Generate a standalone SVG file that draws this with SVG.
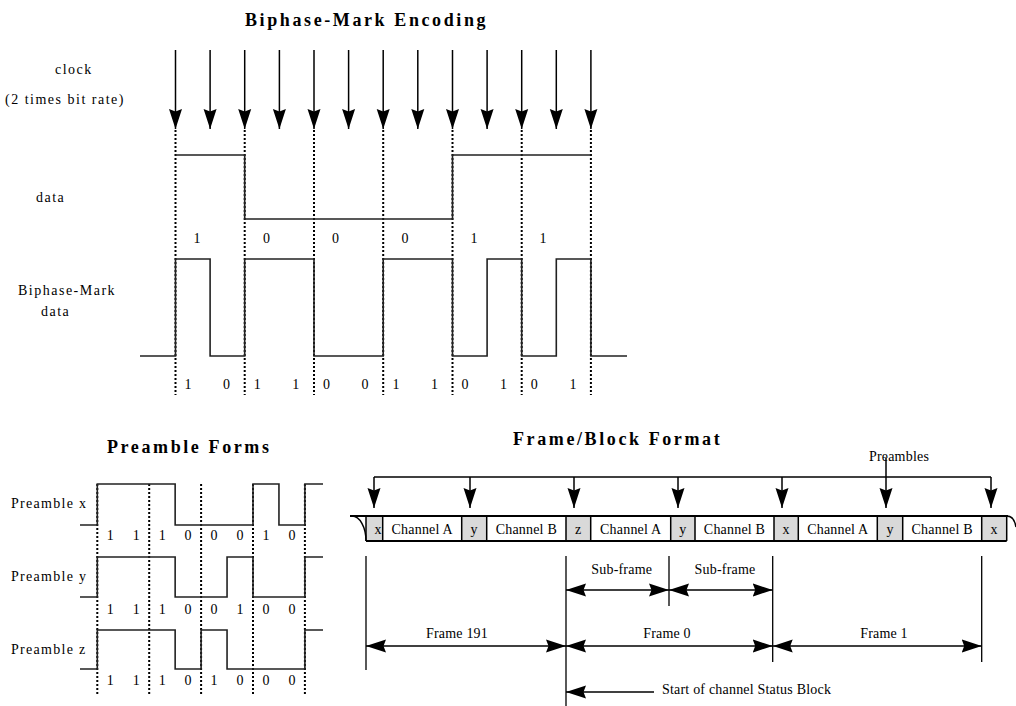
<svg xmlns="http://www.w3.org/2000/svg" width="1016" height="706" viewBox="0 0 1016 706">
<defs>
<style>
text{font-family:"Liberation Serif","Times New Roman",serif;fill:#000}
.title{font-size:18px;font-weight:bold;letter-spacing:2.6px}
.lbl{font-size:14px;letter-spacing:1.5px}
.bit{font-size:14px;text-anchor:middle}
.sm{font-size:14px;letter-spacing:0.2px}
.mid{text-anchor:middle}
.wave{fill:none;stroke:#222;stroke-width:1.6}
.dot{fill:none;stroke:#000;stroke-width:2;stroke-dasharray:2 2}
.arr{fill:none;stroke:#000;stroke-width:1.5;marker-end:url(#ah)}
.dbl{fill:none;stroke:#000;stroke-width:1.5;marker-end:url(#ah);marker-start:url(#ah)}
.ln{fill:none;stroke:#000;stroke-width:1.3}
.gray{fill:#d9d9d9}
.white{fill:#fff}
.sep{stroke:#000;stroke-width:1.5}
.bord{fill:none;stroke:#000;stroke-width:2.2}
</style>
<marker id="ah" viewBox="0 0 20 14" refX="20" refY="7" markerWidth="20" markerHeight="14" markerUnits="userSpaceOnUse" orient="auto-start-reverse">
<path d="M0,0.5 L20,7 L0,13.5 L2.5,7 Z" fill="#000"/>
</marker>
</defs>
<rect width="1016" height="706" fill="#fff"/>

<!-- Biphase-Mark Encoding -->
<g id="biphase">
<text class="title" x="245" y="26">Biphase-Mark Encoding</text>
<text class="lbl" x="55" y="74">clock</text>
<text class="lbl" x="5" y="104">(2 times bit rate)</text>
<text class="lbl" x="36" y="202">data</text>
<text class="lbl" x="18" y="295">Biphase-Mark</text>
<text class="lbl" x="41" y="316">data</text>
</g>
<g id="clock-arrows">
<line class="arr" x1="175.5" y1="50" x2="175.5" y2="129"/>
<line class="arr" x1="210.1" y1="50" x2="210.1" y2="129"/>
<line class="arr" x1="244.7" y1="50" x2="244.7" y2="129"/>
<line class="arr" x1="279.4" y1="50" x2="279.4" y2="129"/>
<line class="arr" x1="314" y1="50" x2="314" y2="129"/>
<line class="arr" x1="348.6" y1="50" x2="348.6" y2="129"/>
<line class="arr" x1="383.2" y1="50" x2="383.2" y2="129"/>
<line class="arr" x1="417.8" y1="50" x2="417.8" y2="129"/>
<line class="arr" x1="452.5" y1="50" x2="452.5" y2="129"/>
<line class="arr" x1="487.1" y1="50" x2="487.1" y2="129"/>
<line class="arr" x1="521.7" y1="50" x2="521.7" y2="129"/>
<line class="arr" x1="556.3" y1="50" x2="556.3" y2="129"/>
<line class="arr" x1="590.9" y1="50" x2="590.9" y2="129"/>
</g>
<g id="clock-dots">
<path class="dot" d="M175.5,130V395M244.7,130V395M314,130V395M383.2,130V395M452.5,130V395M521.7,130V395M590.9,130V395"/>
</g>
<g id="data-wave">
<path class="wave" d="M175.5,155H244.7V219H452.5V155H590.9"/>
</g>
<g id="bmc-wave">
<path class="wave" d="M140,356H175.5V259H210.1V356H244.7V259H314V356H383.2V259H452.5V356H487.1V259H521.7V356H556.3V259H590.9V356H627"/>
</g>
<g id="data-bits">
<text class="bit" x="197" y="243">1</text>
<text class="bit" x="266.5" y="243">0</text>
<text class="bit" x="335.5" y="243">0</text>
<text class="bit" x="405" y="243">0</text>
<text class="bit" x="474" y="243">1</text>
<text class="bit" x="543" y="243">1</text>
</g>
<g id="bmc-bits">
<text class="bit" x="188" y="389">1</text>
<text class="bit" x="226.5" y="389">0</text>
<text class="bit" x="257.2" y="389">1</text>
<text class="bit" x="295.7" y="389">1</text>
<text class="bit" x="326.5" y="389">0</text>
<text class="bit" x="365" y="389">0</text>
<text class="bit" x="396" y="389">1</text>
<text class="bit" x="434.5" y="389">1</text>
<text class="bit" x="465" y="389">0</text>
<text class="bit" x="503.5" y="389">1</text>
<text class="bit" x="534.2" y="389">0</text>
<text class="bit" x="573" y="389">1</text>
</g>

<!-- Preamble Forms -->
<g id="preamble">
<text class="title" x="107" y="453">Preamble Forms</text>
<text class="lbl" x="11" y="508" style="letter-spacing:1.3px">Preamble x</text>
<text class="lbl" x="11" y="581" style="letter-spacing:1.3px">Preamble y</text>
<text class="lbl" x="11" y="654" style="letter-spacing:1.3px">Preamble z</text>
<path class="dot" d="M97.3,484V696M149.2,484V696M201.1,484V696M253,484V696M304.9,484V696"/>
<path class="wave" d="M80,525H97.3V484H175.15V525H253V484H278.95V525H304.9V484H323"/>
<path class="wave" d="M80,597H97.3V557H175.15V597H227.05V557H253V597H304.9V557H323"/>
<path class="wave" d="M80,669H97.3V630H175.15V669H201.1V630H227.05V669H304.9V630H323"/>
<g>
<text class="bit" x="110.3" y="540">1</text><text class="bit" x="136.2" y="540">1</text><text class="bit" x="162.2" y="540">1</text><text class="bit" x="188.1" y="540">0</text><text class="bit" x="214.1" y="540">0</text><text class="bit" x="240" y="540">0</text><text class="bit" x="266" y="540">1</text><text class="bit" x="291.9" y="540">0</text>
</g>
<g>
<text class="bit" x="110.3" y="614">1</text><text class="bit" x="136.2" y="614">1</text><text class="bit" x="162.2" y="614">1</text><text class="bit" x="188.1" y="614">0</text><text class="bit" x="214.1" y="614">0</text><text class="bit" x="240" y="614">1</text><text class="bit" x="266" y="614">0</text><text class="bit" x="291.9" y="614">0</text>
</g>
<g>
<text class="bit" x="110.3" y="685">1</text><text class="bit" x="136.2" y="685">1</text><text class="bit" x="162.2" y="685">1</text><text class="bit" x="188.1" y="685">0</text><text class="bit" x="214.1" y="685">1</text><text class="bit" x="240" y="685">0</text><text class="bit" x="266" y="685">0</text><text class="bit" x="291.9" y="685">0</text>
</g>
</g>

<!-- Frame/Block Format -->
<g id="frame-title">
<text class="title" x="513" y="445">Frame/Block Format</text>
<text class="sm mid" x="899" y="461">Preambles</text>
</g>
<g id="frame-strip">
<rect class="gray" x="366" y="516" width="16.7" height="25"/>
<rect class="white" x="382.7" y="516" width="79" height="25"/>
<rect class="gray" x="461.7" y="516" width="25" height="25"/>
<rect class="white" x="486.7" y="516" width="79.3" height="25"/>
<rect class="gray" x="566" y="516" width="24.7" height="25"/>
<rect class="white" x="590.7" y="516" width="80" height="25"/>
<rect class="gray" x="670.7" y="516" width="24.3" height="25"/>
<rect class="white" x="695" y="516" width="79" height="25"/>
<rect class="gray" x="774" y="516" width="24.3" height="25"/>
<rect class="white" x="798.3" y="516" width="79" height="25"/>
<rect class="gray" x="877.3" y="516" width="25.4" height="25"/>
<rect class="white" x="902.7" y="516" width="79" height="25"/>
<rect class="gray" x="981.7" y="516" width="25" height="25"/>
<path class="sep" d="M366,516V541M382.7,516V541M461.7,516V541M486.7,516V541M566,516V541M590.7,516V541M670.7,516V541M695,516V541M774,516V541M798.3,516V541M877.3,516V541M902.7,516V541M981.7,516V541M1006.7,516V541"/>
<path class="bord" d="M350,516H1008M366,541H1006.7"/>
<path class="ln" d="M352,516A14,25 0 0 1 366,541M1007,516Q1014,516 1016,527" style="stroke-width:1.5"/>
<text class="sm mid" x="378" y="534">x</text>
<text class="sm mid" x="422.2" y="534">Channel A</text>
<text class="sm mid" x="474.2" y="534">y</text>
<text class="sm mid" x="526.3" y="534">Channel B</text>
<text class="sm mid" x="578.3" y="534">z</text>
<text class="sm mid" x="630.7" y="534">Channel A</text>
<text class="sm mid" x="682.8" y="534">y</text>
<text class="sm mid" x="734.5" y="534">Channel B</text>
<text class="sm mid" x="786.2" y="534">x</text>
<text class="sm mid" x="837.8" y="534">Channel A</text>
<text class="sm mid" x="890" y="534">y</text>
<text class="sm mid" x="942.2" y="534">Channel B</text>
<text class="sm mid" x="994.2" y="534">x</text>
</g>
<g id="connectors">
<line class="ln" x1="374" y1="477" x2="991" y2="477" style="stroke-width:1.5"/>
<line class="arr" x1="374" y1="477" x2="374" y2="508"/>
<line class="arr" x1="470" y1="477" x2="470" y2="508"/>
<line class="arr" x1="574" y1="477" x2="574" y2="508"/>
<line class="arr" x1="678" y1="477" x2="678" y2="508"/>
<line class="arr" x1="782" y1="477" x2="782" y2="508"/>
<line class="arr" x1="886" y1="458" x2="886" y2="508"/>
<line class="arr" x1="991" y1="477" x2="991" y2="508"/>
<path class="ln" d="M366,556V670M566,556V706M669,556V606M772.7,556V662M981.7,556V662"/>
<line class="dbl" x1="566" y1="590" x2="669" y2="590"/>
<line class="dbl" x1="669" y1="590" x2="772.7" y2="590"/>
<line class="dbl" x1="366" y1="646" x2="566" y2="646"/>
<line class="dbl" x1="566" y1="646" x2="772.7" y2="646"/>
<line class="dbl" x1="772.7" y1="646" x2="981.7" y2="646"/>
<line class="arr" x1="654" y1="692" x2="566" y2="692"/>
</g>
<g id="dim-labels">
<text class="sm mid" x="621.7" y="574">Sub-frame</text>
<text class="sm mid" x="725" y="574">Sub-frame</text>
<text class="sm mid" x="457" y="638">Frame 191</text>
<text class="sm mid" x="667" y="638">Frame 0</text>
<text class="sm mid" x="884" y="638">Frame 1</text>
<text class="sm" x="662" y="694">Start of channel Status Block</text>
</g>
</svg>
